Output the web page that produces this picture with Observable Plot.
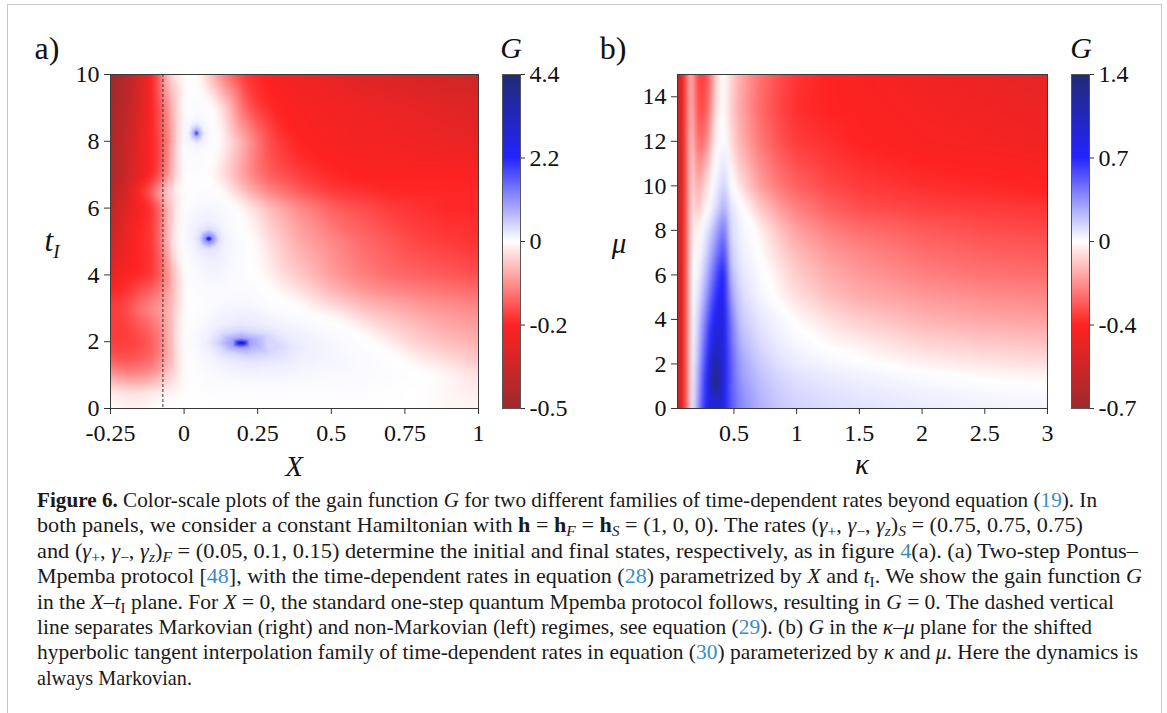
<!DOCTYPE html>
<html><head><meta charset="utf-8">
<script src="https://cdn.jsdelivr.net/npm/d3@7"></script>
<script src="https://cdn.jsdelivr.net/npm/@observablehq/plot@0.6"></script>
<style>
html,body{margin:0;padding:0;background:#fff;}
body{width:1167px;height:713px;overflow:hidden;position:relative;font-family:"Liberation Serif",serif;color:#111;}
#frame{position:absolute;left:7px;top:4px;width:1155px;height:780px;border:1.5px solid #c6c6c6;box-sizing:border-box;}
svg text{font-family:"Liberation Serif",serif !important;}
.lbl{position:absolute;transform:translate(-50%,-50%);white-space:nowrap;font-family:"Liberation Serif",serif;color:#111;line-height:1;}
#caption{position:absolute;left:37px;top:488px;font-family:"Liberation Serif",serif;font-size:21px;color:#1a1a1a;}
#caption .ln{white-space:nowrap;width:max-content;height:25.4px;line-height:25.4px;transform-origin:0 50%;}
#caption a{color:#3a8cc4;text-decoration:none;}
#caption sub{font-size:70%;line-height:0;vertical-align:-0.3em;}
</style></head><body>
<div id="frame"></div>
<div id="root"></div>
<div class="lbl" style="left:47px;top:48px;font-size:32px;">a)</div>
<div class="lbl" style="left:613px;top:48px;font-size:32px;">b)</div>
<div class="lbl" style="left:511px;top:48px;font-size:30px;font-style:italic;">G</div>
<div class="lbl" style="left:1081px;top:48px;font-size:30px;font-style:italic;">G</div>
<div class="lbl" style="left:294px;top:466px;font-size:29px;font-style:italic;">X</div>
<div class="lbl" style="left:862px;top:464px;font-size:29px;font-style:italic;">κ</div>
<div class="lbl" style="left:52px;top:243px;font-size:31px;font-style:italic;">t<span style="font-size:19px;vertical-align:-0.35em;">I</span></div>
<div class="lbl" style="left:619px;top:243px;font-size:29px;font-style:italic;">μ</div>
<div id="caption">
<div class="ln" data-w="1060"><b>Figure 6.</b> Color-scale plots of the gain function <i>G</i> for two different families of time-dependent rates beyond equation (<a>19</a>). In</div>
<div class="ln" data-w="1046">both panels, we consider a constant Hamiltonian with <b>h</b> = <b>h</b><sub><i>F</i></sub> = <b>h</b><sub><i>S</i></sub> = (1, 0, 0). The rates (<i>γ</i><sub>+</sub>, <i>γ</i><sub>−</sub>, <i>γ</i><sub><i>z</i></sub>)<sub><i>S</i></sub> = (0.75, 0.75, 0.75)</div>
<div class="ln" data-w="1101">and (<i>γ</i><sub>+</sub>, <i>γ</i><sub>−</sub>, <i>γ</i><sub><i>z</i></sub>)<sub><i>F</i></sub> = (0.05, 0.1, 0.15) determine the initial and final states, respectively, as in figure <a>4</a>(a). (a) Two-step Pontus–</div>
<div class="ln" data-w="1105">Mpemba protocol [<a>48</a>], with the time-dependent rates in equation (<a>28</a>) parametrized by <i>X</i> and <i>t</i><sub>I</sub>. We show the gain function <i>G</i></div>
<div class="ln" data-w="1077">in the <i>X</i>–<i>t</i><sub>I</sub> plane. For <i>X</i> = 0, the standard one-step quantum Mpemba protocol follows, resulting in <i>G</i> = 0. The dashed vertical</div>
<div class="ln" data-w="1055">line separates Markovian (right) and non-Markovian (left) regimes, see equation (<a>29</a>). (b) <i>G</i> in the <i>κ</i>–<i>μ</i> plane for the shifted</div>
<div class="ln" data-w="1101">hyperbolic tangent interpolation family of time-dependent rates in equation (<a>30</a>) parameterized by <i>κ</i> and <i>μ</i>. Here the dynamics is</div>
<div class="ln" data-w="155">always Markovian.</div>
</div>
<script>
// ---------- Panel a: G over (X, t_I) ----------
const aX = [-0.25,-0.2,-0.15,-0.1,-0.05,0,0.05,0.1,0.15,0.2,0.25,0.3,0.4,0.5,0.6,0.7,0.8,0.9,1];
const aT = [10,9,8,7,6.5,6,5,4,3.5,3,2.5,2,1.5,1,0.5,0];
const aG = [
 [-0.45,-0.4,-0.32,-0.22,-0.04,0.0,0.0,-0.08,-0.15,-0.2,-0.22,-0.24,-0.26,-0.28,-0.3,-0.31,-0.32,-0.33,-0.35],
 [-0.43,-0.38,-0.3,-0.22,-0.1,0.02,0.04,0.0,-0.06,-0.15,-0.2,-0.22,-0.24,-0.25,-0.26,-0.27,-0.28,-0.29,-0.3],
 [-0.42,-0.36,-0.28,-0.22,-0.12,0.04,0.1,0.03,-0.03,-0.08,-0.14,-0.19,-0.23,-0.24,-0.25,-0.25,-0.26,-0.27,-0.28],
 [-0.42,-0.35,-0.27,-0.22,-0.1,0.01,0.02,-0.01,-0.05,-0.1,-0.14,-0.17,-0.2,-0.22,-0.23,-0.23,-0.23,-0.23,-0.23],
 [-0.4,-0.32,-0.22,-0.13,-0.04,0.01,0.03,0.02,-0.02,-0.06,-0.1,-0.13,-0.17,-0.2,-0.21,-0.22,-0.22,-0.22,-0.22],
 [-0.38,-0.3,-0.24,-0.2,-0.06,0.02,0.08,0.1,0.04,-0.01,-0.04,-0.07,-0.12,-0.16,-0.18,-0.2,-0.21,-0.22,-0.22],
 [-0.34,-0.26,-0.22,-0.2,-0.05,0.04,0.22,0.28,0.1,0.02,-0.01,-0.04,-0.09,-0.12,-0.15,-0.17,-0.19,-0.2,-0.21],
 [-0.27,-0.23,-0.22,-0.2,-0.1,0.01,0.06,0.1,0.06,0.02,0.0,-0.02,-0.06,-0.1,-0.13,-0.15,-0.16,-0.17,-0.18],
 [-0.22,-0.21,-0.18,-0.15,-0.09,0.0,0.03,0.05,0.05,0.05,0.03,0.0,-0.03,-0.07,-0.1,-0.12,-0.13,-0.14,-0.15],
 [-0.2,-0.19,-0.14,-0.11,-0.08,0.0,0.02,0.05,0.08,0.1,0.07,0.03,0.0,-0.03,-0.06,-0.08,-0.1,-0.11,-0.12],
 [-0.2,-0.2,-0.17,-0.14,-0.08,0.01,0.04,0.12,0.2,0.25,0.22,0.15,0.08,0.02,-0.02,-0.05,-0.07,-0.09,-0.1],
 [-0.2,-0.2,-0.19,-0.16,-0.08,0.02,0.08,0.22,0.4,0.5,0.42,0.3,0.18,0.08,0.02,-0.02,-0.05,-0.07,-0.08],
 [-0.17,-0.18,-0.17,-0.15,-0.08,0.01,0.05,0.12,0.22,0.3,0.3,0.25,0.16,0.1,0.05,0.01,-0.02,-0.04,-0.06],
 [-0.1,-0.12,-0.12,-0.1,-0.05,0.0,0.03,0.06,0.08,0.1,0.1,0.1,0.08,0.06,0.05,0.03,0.01,-0.01,-0.03],
 [-0.02,-0.03,-0.03,-0.02,-0.01,0.0,0.01,0.02,0.02,0.02,0.02,0.02,0.02,0.02,0.02,0.01,0.0,-0.01,-0.02],
 [0,-0.01,-0.01,0,0,0,0,0,0.01,0.01,0.01,0.01,0.01,0.01,0.01,0,0,-0.01,-0.01]
];
// blue spots in panel a: [X, t_I, G]
const aSpot1 = [[0.042,8.24,2.0],
 [0.052,8.24,0.8],[0.032,8.24,0.8],[0.042,8.34,0.8],[0.042,8.14,0.8],[0.049,8.31,0.8],[0.035,8.31,0.8],[0.049,8.17,0.8],[0.035,8.17,0.8],
 [0.072,8.24,0.2],[0.012,8.24,0.2],[0.042,8.59,0.2],[0.042,7.89,0.2],[0.063,8.485,0.2],[0.021,8.485,0.2],[0.063,7.995,0.2],[0.021,7.995,0.2],
 [0.102,8.24,0],[-0.018,8.24,0],[0.042,8.95,0],[0.042,7.5,0],[0.085,8.75,0],[-0.001,8.75,0],[0.085,7.75,0],[-0.001,7.75,0]];
const aSpot2 = [[0.084,5.08,3.0],
 [0.096,5.08,1.2],[0.072,5.08,1.2],[0.084,5.16,1.2],[0.084,5.0,1.2],[0.092,5.136,1.2],[0.076,5.136,1.2],[0.092,5.024,1.2],[0.076,5.024,1.2],
 [0.119,5.08,0.35],[0.049,5.08,0.35],[0.084,5.38,0.35],[0.084,4.78,0.35],[0.109,5.29,0.35],[0.059,5.29,0.35],[0.109,4.87,0.35],[0.059,4.87,0.35],
 [0.16,5.08,0],[0.01,5.08,0],[0.084,5.9,0],[0.084,4.2,0],[0.138,5.65,0],[0.03,5.65,0],[0.138,4.5,0],[0.03,4.5,0]];
const aSpot3 = [[0.194,1.96,4.4],
 [0.209,1.96,2.0],[0.179,1.96,2.0],[0.194,2.01,2.0],[0.194,1.91,2.0],[0.205,1.995,2.0],[0.183,1.995,2.0],[0.205,1.925,2.0],[0.183,1.925,2.0],
 [0.234,1.96,0.9],[0.154,1.96,0.9],[0.194,2.11,0.9],[0.194,1.81,0.9],[0.222,2.065,0.9],[0.166,2.065,0.9],[0.222,1.855,0.9],[0.166,1.855,0.9],
 [0.32,1.9,0.4],[0.11,1.96,0.4],[0.194,2.33,0.4],[0.22,1.55,0.4],[0.28,2.2,0.4],[0.13,2.22,0.4],[0.29,1.65,0.4],[0.14,1.7,0.4],
 [0.48,1.7,0],[0.04,1.96,0],[0.19,2.85,0],[0.25,0.95,0],[0.36,2.5,0],[0.07,2.5,0],[0.42,1.15,0],[0.09,1.3,0]];
const aDashX = [-0.072];
const aXTicks = [-0.25,0,0.25,0.5,0.75,1];
const aYTicks = [0,2,4,6,8,10];
const aBarLabels = ["-0.5","-0.2","0","2.2","4.4"];
const aRange = [-0.45, 4.4];

// ---------- Panel b: G over (kappa, mu) ----------
const bX = [0.05,0.07,0.1,0.13,0.16,0.2,0.25,0.3,0.35,0.4,0.43,0.46,0.55,0.7,0.85,1.0,1.25,1.5,2.0,2.5,3.0];
const bM = [15,13.5,12,11,10,9,8,7,6,5,4,3,2,1.5,1,0.5,0];
const bG = [
 [-0.68,-0.5,-0.36,-0.2,-0.08,-0.28,-0.32,-0.25,-0.1,0.0,-0.01,-0.05,-0.13,-0.22,-0.28,-0.32,-0.35,-0.37,-0.4,-0.42,-0.44],
 [-0.68,-0.5,-0.36,-0.2,-0.08,-0.26,-0.3,-0.22,-0.07,0.0,-0.01,-0.06,-0.14,-0.23,-0.29,-0.33,-0.35,-0.36,-0.38,-0.4,-0.42],
 [-0.68,-0.5,-0.36,-0.2,-0.06,-0.22,-0.24,-0.15,-0.03,0.02,0.02,-0.04,-0.12,-0.21,-0.27,-0.31,-0.33,-0.35,-0.37,-0.38,-0.4],
 [-0.68,-0.5,-0.36,-0.2,-0.05,-0.18,-0.17,-0.08,0.0,0.06,0.08,-0.01,-0.09,-0.18,-0.24,-0.28,-0.31,-0.33,-0.35,-0.36,-0.37],
 [-0.68,-0.5,-0.36,-0.2,-0.04,-0.14,-0.1,-0.03,0.04,0.12,0.16,0.03,-0.05,-0.15,-0.21,-0.25,-0.29,-0.31,-0.33,-0.34,-0.35],
 [-0.68,-0.5,-0.36,-0.2,-0.03,-0.1,-0.05,0.01,0.1,0.22,0.27,0.1,0.02,-0.08,-0.15,-0.2,-0.25,-0.28,-0.3,-0.31,-0.32],
 [-0.68,-0.5,-0.36,-0.2,-0.02,-0.04,0.02,0.1,0.25,0.4,0.45,0.15,0.04,-0.02,-0.09,-0.15,-0.2,-0.23,-0.26,-0.28,-0.29],
 [-0.68,-0.5,-0.36,-0.2,-0.01,-0.02,0.06,0.2,0.38,0.55,0.6,0.2,0.06,0.0,-0.06,-0.11,-0.16,-0.19,-0.23,-0.25,-0.26],
 [-0.68,-0.5,-0.36,-0.2,0.0,0.01,0.12,0.3,0.52,0.7,0.72,0.28,0.09,0.02,-0.03,-0.08,-0.13,-0.16,-0.2,-0.22,-0.23],
 [-0.68,-0.5,-0.36,-0.2,0.0,0.04,0.2,0.42,0.65,0.8,0.78,0.38,0.13,0.04,-0.01,-0.05,-0.1,-0.13,-0.16,-0.18,-0.19],
 [-0.68,-0.5,-0.36,-0.2,0.0,0.08,0.3,0.55,0.78,0.9,0.8,0.48,0.18,0.08,0.03,-0.01,-0.05,-0.08,-0.12,-0.14,-0.15],
 [-0.68,-0.5,-0.36,-0.2,0.0,0.1,0.38,0.65,0.95,0.95,0.8,0.52,0.24,0.12,0.06,0.02,-0.01,-0.03,-0.07,-0.09,-0.1],
 [-0.68,-0.5,-0.36,-0.2,0.0,0.14,0.45,0.75,1.25,0.95,0.8,0.56,0.3,0.17,0.1,0.06,0.03,0.01,-0.02,-0.04,-0.05],
 [-0.68,-0.5,-0.36,-0.2,0.0,0.16,0.5,0.8,1.35,0.95,0.8,0.56,0.32,0.2,0.13,0.09,0.06,0.04,0.01,-0.01,-0.02],
 [-0.68,-0.5,-0.36,-0.2,0.0,0.18,0.52,0.85,1.4,0.95,0.8,0.56,0.35,0.22,0.15,0.11,0.08,0.06,0.03,0.01,0.0],
 [-0.68,-0.5,-0.36,-0.2,0.0,0.2,0.55,0.85,1.0,0.95,0.8,0.56,0.37,0.24,0.17,0.13,0.1,0.08,0.05,0.03,0.02],
 [-0.68,-0.5,-0.36,-0.2,0.0,0.22,0.58,0.85,0.9,0.9,0.8,0.56,0.38,0.25,0.18,0.14,0.11,0.09,0.06,0.04,0.03]
];
const bXTicks = [0.5,1,1.5,2,2.5,3];
const bYTicks = [0,2,4,6,8,10,12,14];
const bBarLabels = ["-0.7","-0.4","0","0.7","1.4"];
const bRange = [-0.7, 1.4];

// colormap anchors (min, min/2, 0, max/2, max)
const cmap = ["#9d2a2c","#ff2222","#ffffff","#2323ff","#222b72"];

function colorScale(r){
  return {type:"linear", domain:[r[0], r[0]/2, 0, r[1]/2, r[1]], range:cmap, interpolate:"rgb", clamp:true};
}
function toRows(xs, ys, g){
  const out=[];
  ys.forEach((y,i)=>xs.forEach((x,j)=>out.push({x,y,g:g[i][j]})));
  return out;
}
const fmt = d => String(d);
const FONT = "Liberation Serif, serif";
const st = {fontFamily:FONT, fontSize:"24px", color:"#111", background:"transparent", overflow:"visible"};
const axisText = {fontSize:24, fontFamily:FONT};

function spotLayer(spot){
  const pts = spot.map(([x,y,g])=>({x,y,g}));
  const [x1,x2] = d3.extent(pts,d=>d.x), [y1,y2] = d3.extent(pts,d=>d.y);
  return Plot.raster(pts,{x:"x",y:"y",fill:"g",fillOpacity:d=>Math.min(1,d.g/0.4),interpolate:"barycentric",x1,x2,y1,y2});
}
function place(p,left){
  p.style.position="absolute"; p.style.left=left+"px"; p.style.top="0px";
  p.setAttribute("font-family",FONT);
  p.querySelectorAll("text").forEach(t=>t.style.fontFamily='"Liberation Serif", serif');
  return p;
}

function heat({data, xDomain, yDomain, xTicks, yTicks, range, blur, extraMarks, left, width, mL}){
  const p = Plot.plot({
    width, height:480, marginLeft:mL, marginRight:12, marginTop:74, marginBottom:72,
    style: st,
    x:{domain:xDomain}, y:{domain:yDomain},
    color: colorScale(range),
    opacity:{domain:[0,1], range:[0,1]},
    marks:[
      Plot.raster(data,{x:"x",y:"y",fill:"g",interpolate:"barycentric",blur}),
      ...extraMarks,
      Plot.frame({stroke:"#3a3a3a",strokeWidth:1}),
      Plot.axisX({ticks:xTicks, tickFormat:fmt, tickSize:6, tickPadding:9, label:null, stroke:"#333", ...axisText}),
      Plot.axisY({ticks:yTicks, tickFormat:fmt, tickSize:6, tickPadding:5, label:null, stroke:"#333", ...axisText})
    ]
  });
  return place(p,left);
}
function colorbar({range, labels, left}){
  const N=334;
  const cells = d3.range(N).map(i=>{const t=(i+0.5)/N; return {y1:i/N,y2:(i+1)/N,v: t<0.5 ? range[0]*(1-2*t) : range[1]*(2*t-1)};});
  const p = Plot.plot({
    width:100, height:480, marginLeft:0, marginRight:82, marginTop:74, marginBottom:72,
    style: st,
    x:{domain:[0,1],axis:null}, y:{domain:[0,1],axis:null},
    color: colorScale(range),
    marks:[
      Plot.rect(cells,{x1:0,x2:1,y1:"y1",y2:"y2",fill:"v",shapeRendering:"crispEdges"}),
      Plot.frame({stroke:"#555",strokeWidth:1}),
      Plot.axisY({anchor:"right", ticks:[0,0.25,0.5,0.75,1], tickFormat:(d)=>labels[Math.round(d*4)], tickSize:4, tickPadding:5, label:null, stroke:"#333", ...axisText})
    ]
  });
  return place(p,left);
}

const root = document.getElementById("root");
root.appendChild(heat({data:toRows(aX, aT, aG), xDomain:[-0.25,1], yDomain:[0,10], xTicks:aXTicks, yTicks:aYTicks, range:aRange, blur:4,
  extraMarks:[spotLayer(aSpot1), spotLayer(aSpot2), spotLayer(aSpot3), Plot.ruleX(aDashX,{stroke:"#333",strokeWidth:1,strokeDasharray:"3,2"})], left:0, width:490, mL:110}));
root.appendChild(colorbar({range:aRange, labels:aBarLabels, left:502}));

root.appendChild(heat({data:toRows(bX, bM, bG), xDomain:[0.05,3], yDomain:[0,15], xTicks:bXTicks, yTicks:bYTicks, range:bRange, blur:2,
  extraMarks:[], left:570, width:489, mL:107}));
root.appendChild(colorbar({range:bRange, labels:bBarLabels, left:1071}));

// fit caption lines to the reference line lengths
document.querySelectorAll("#caption .ln").forEach(el=>{
  const target=+el.dataset.w; const w=el.getBoundingClientRect().width;
  if(w>0) el.style.transform=`scaleX(${target/w})`;
});
</script>
</body></html>
